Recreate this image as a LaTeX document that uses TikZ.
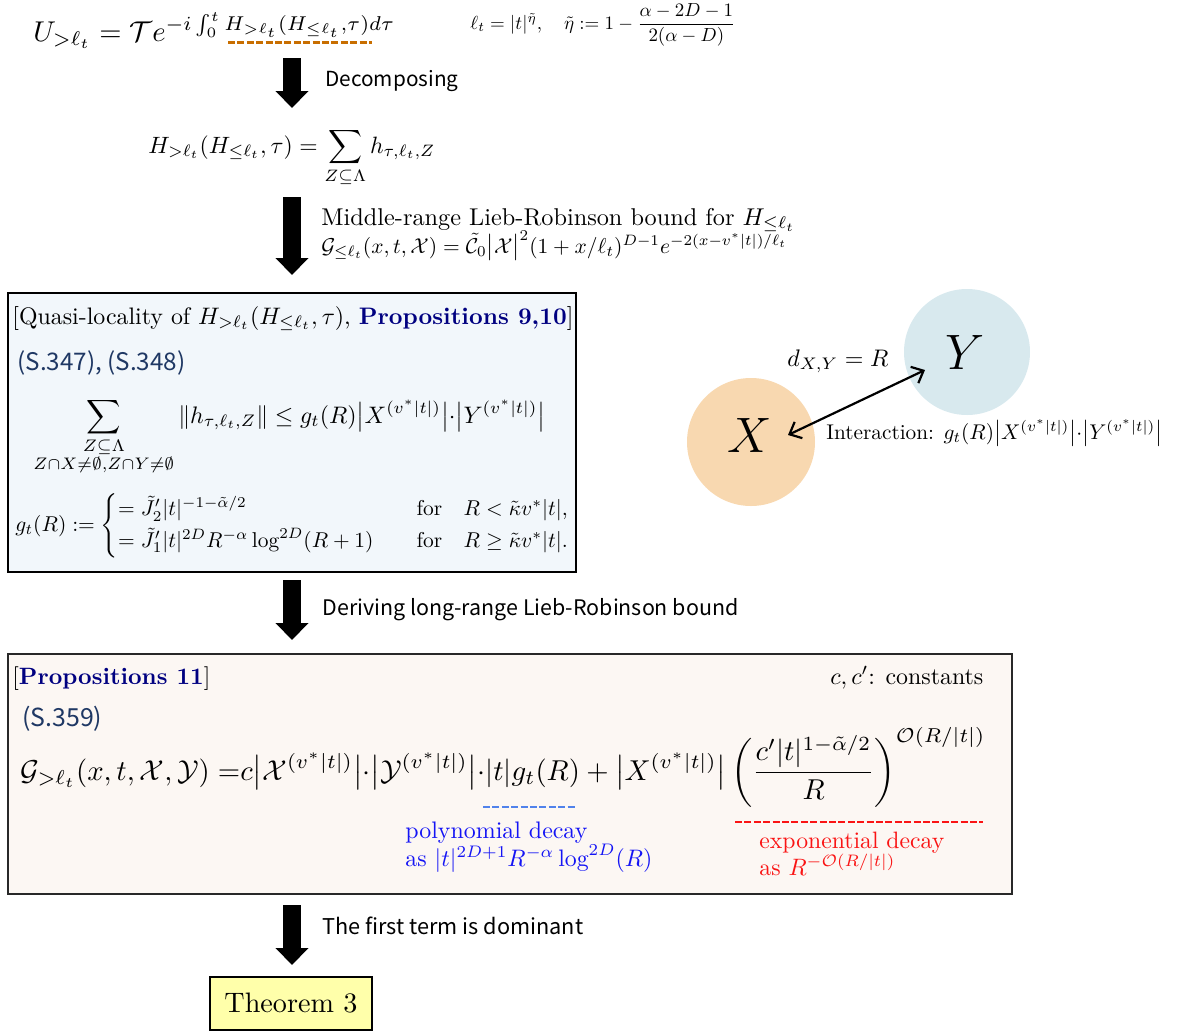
\documentclass[tikz,border=0pt]{standalone}
\usepackage{amsmath,amssymb}
\usepackage{graphicx}
\usepackage{fontspec}
\newfontfamily\jpsans{Noto Sans CJK JP}
\usetikzlibrary{arrows.meta}
\definecolor{navy}{RGB}{0,0,128}
\definecolor{sref}{RGB}{31,56,100}
\definecolor{boxblue}{RGB}{242,247,251}
\definecolor{boxbeige}{RGB}{252,247,243}
\definecolor{circX}{RGB}{248,216,176}
\definecolor{circY}{RGB}{216,233,238}
\definecolor{dashorange}{RGB}{200,110,0}
\definecolor{dashblue}{RGB}{80,130,235}
\definecolor{polyblue}{RGB}{20,20,245}
\definecolor{expred}{RGB}{250,20,20}
\definecolor{thmyellow}{RGB}{255,255,170}
\definecolor{boxedge}{RGB}{40,40,40}
\newcommand\fitw[2]{\resizebox{#1}{!}{#2}}
\begin{document}
\begin{tikzpicture}[x=0.5pt,y=-0.5pt,
  txt/.style={inner sep=0pt, anchor=base west},
  bigarrow/.style={line width=9pt, -{Triangle[length=8.5pt,width=16pt]}},
  undash/.style={line width=1.5pt, dash pattern=on 3.5pt off 1.2pt},
  panel/.style={draw, line width=0.6pt, inner sep=0pt, rectangle},
  blob/.style={circle, inner sep=0pt, draw=none}]
\useasboundingbox (0,0) rectangle (1180,1034);

% ---------- top formulas ----------
\node[txt] (top) at (33,41) {\fitw{181pt}{$U_{>\ell_t} = \mathcal{T}e^{-i\int_0^t H_{>\ell_t}(H_{\le\ell_t},\tau)d\tau}$}};
\node[txt] (ell) at (470,29) {\fitw{132.5pt}{$\ell_t = |t|^{\tilde\eta},\quad \tilde\eta := 1-\dfrac{\alpha-2D-1}{2(\alpha-D)}$}};
\coordinate (uo1) at (228,42); \coordinate (uo2) at (372,42);
\draw[undash, draw=dashorange] (uo1) -- (uo2);

% arrow 1
\coordinate (a1s) at (292,58); \coordinate (a1e) at (292,108);
\draw[bigarrow] (a1s) -- (a1e);
\node[txt] (lab1) at (325,86) {\fitw{66.5pt}{\jpsans Decomposing}};

% row 2
\node[txt] (hform) at (148,153) {\fitw{143.5pt}{$\displaystyle H_{>\ell_t}(H_{\le\ell_t},\tau) = \sum_{Z\subseteq\Lambda} h_{\tau,\ell_t,Z}$}};

% arrow 2
\coordinate (a2s) at (292,197); \coordinate (a2e) at (292,275);
\draw[bigarrow] (a2s) -- (a2e);
\node[txt] (lab2) at (321,225) {\fitw{237pt}{Middle-range Lieb-Robinson bound for $H_{\le\ell_t}$}};
\node[txt] (lab2b) at (321,253) {\fitw{233pt}{$\mathcal{G}_{\le\ell_t}(x,t,\mathcal{X}) = \tilde{\mathcal{C}}_0\bigl|\mathcal{X}\bigr|^2(1+x/\ell_t)^{D-1}e^{-2(x-v^*|t|)/\ell_t}$}};

% ---------- box 1 ----------
\node[panel, fill=boxblue, minimum width=284pt, minimum height=139.5pt] (box1) at (292,432.5) {};
\node[txt] (b1title) at (12,324) {\fitw{280.5pt}{[Quasi-locality of $H_{>\ell_t}(H_{\le\ell_t},\tau)$, \textcolor{navy}{\textbf{Propositions 9,10}}]}};
\node[txt] (b1ref) at (17,370) {\fitw{84pt}{\jpsans\color{sref}(S.347), (S.348)}};
\node[txt] (b1sum) at (33,423) {\fitw{256pt}{$\displaystyle\sum_{\substack{Z\subseteq\Lambda\\ Z\cap X\neq\emptyset,Z\cap Y\neq\emptyset}} \|h_{\tau,\ell_t,Z}\| \le g_t(R)\bigl|X^{(v^*|t|)}\bigr|{\cdot}\bigl|Y^{(v^*|t|)}\bigr|$}};
\node[txt] (b1cases) at (15,531) {\fitw{277.5pt}{$g_t(R) := \left\{\begin{array}{@{}l@{\qquad}l@{\quad}l@{}} = \tilde J_2'|t|^{-1-\tilde\alpha/2} & \text{for} & R<\tilde\kappa v^*|t|,\\[2pt] = \tilde J_1'|t|^{2D}R^{-\alpha}\log^{2D}(R+1) & \text{for} & R\ge\tilde\kappa v^*|t|.\end{array}\right.$}};

% ---------- circles ----------
\node[blob, fill=circX, minimum size=64pt] (cX) at (751,442) {};
\node[blob, fill=circY, minimum size=63pt] (cY) at (967,352) {};
\node[inner sep=0pt] (lX) at (750,435) {\fontsize{26}{30}\selectfont$X$};
\node[inner sep=0pt] (lY) at (965,352) {\fontsize{26}{30}\selectfont$Y$};
\node[txt] (dxy) at (787,366) {\fitw{50.5pt}{$d_{X,Y} = R$}};
\coordinate (ax) at (788,435); \coordinate (ay) at (925,370);
\draw[line width=1.1pt, {Straight Barb[length=5pt,width=9pt]}-{Straight Barb[length=5pt,width=9pt]}] (ax) -- (ay);
\node[txt] (inter) at (826,439) {\fitw{168pt}{Interaction: $g_t(R)\bigl|X^{(v^*|t|)}\bigr|{\cdot}\bigl|Y^{(v^*|t|)}\bigr|$}};

% arrow 3
\coordinate (a3s) at (292,580); \coordinate (a3e) at (292,640);
\draw[bigarrow] (a3s) -- (a3e);
\node[txt] (lab3) at (322,615) {\fitw{208pt}{\jpsans Deriving long-range Lieb-Robinson bound}};

% ---------- box 2 ----------
\node[panel, draw=boxedge, fill=boxbeige, minimum width=502pt, minimum height=120pt] (box2) at (510,774) {};
\node[txt] (b2title) at (12,684) {\fitw{99pt}{[\textcolor{navy}{\textbf{Propositions 11}}]}};
\node[txt] (b2const) at (830,684) {\fitw{76.5pt}{$c,c'$: constants}};
\node[txt] (b2ref) at (22,726) {\fitw{40pt}{\jpsans\color{sref}(S.359)}};
\node[txt] (b2form) at (20,780) {\fitw{482.5pt}{$\displaystyle \mathcal{G}_{>\ell_t}(x,t,\mathcal{X},\mathcal{Y}) \mathrel{=}\mkern-5mu c\bigl|\mathcal{X}^{(v^*|t|)}\bigr|{\cdot}\bigl|\mathcal{Y}^{(v^*|t|)}\bigr|{\cdot}|t|g_t(R) + \bigl|X^{(v^*|t|)}\bigr|\left(\frac{c'|t|^{1-\tilde\alpha/2}}{R}\right)^{\mathcal{O}(R/|t|)}$}};
\coordinate (ub1) at (483,807); \coordinate (ub2) at (576,807);
\draw[undash, line width=1.4pt, draw=dashblue] (ub1) -- (ub2);
\coordinate (ur1) at (735,822); \coordinate (ur2) at (983,822);
\draw[undash, line width=1.4pt, draw=expred] (ur1) -- (ur2);
\node[txt] (poly1) at (405,838) {\fitw{91pt}{\color{polyblue}polynomial decay}};
\node[txt] (poly2) at (405,866) {\fitw{123.5pt}{\color{polyblue}as $|t|^{2D+1}R^{-\alpha}\log^{2D}(R)$}};
\node[txt] (exp1) at (759,848) {\fitw{92.5pt}{\color{expred}exponential decay}};
\node[txt] (exp2) at (759,875) {\fitw{68pt}{\color{expred}as $R^{-\mathcal{O}(R/|t|)}$}};

% arrow 4
\coordinate (a4s) at (292,905); \coordinate (a4e) at (292,965);
\draw[bigarrow] (a4s) -- (a4e);
\node[txt] (lab4) at (322,934) {\fitw{130.5pt}{\jpsans The first term is dominant}};

% theorem
\node[panel, fill=thmyellow, minimum width=81pt, minimum height=26.5pt] (thm) at (291,1003.5) {\fitw{66.5pt}{Theorem 3}};
\end{tikzpicture}
\end{document}
